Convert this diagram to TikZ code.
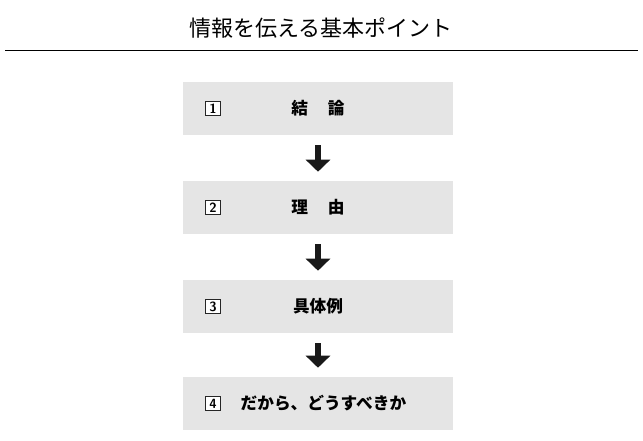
\documentclass[tikz,border=0pt]{standalone}
\usepackage{fontspec}
\newfontfamily\cjk{Noto Sans CJK JP}
\usetikzlibrary{positioning,arrows.meta}

\begin{document}
\begin{tikzpicture}[x=0.75pt,y=-0.75pt]

  \tikzset{stepbox/.style = {fill=black!10, minimum width=202.5pt, minimum height=39.75pt, inner sep=0pt},
           numbox/.style = {draw=black!85, fill=white, line width=0.6pt, minimum size=11pt, inner sep=0pt, font=\sffamily\bfseries},
           steptext/.style = {font=\cjk\bfseries\fontsize{12.5pt}{14pt}\selectfont},
           downarrow/.style = {-{Triangle[width=18pt,length=9pt]}, line width=4.5pt, black!90, shorten <=7.5pt, shorten >=6.75pt}}

  \useasboundingbox (0,0) rectangle (643,441);

  \node[font=\cjk\fontsize{16.5pt}{18pt}\selectfont] (title) at (321,28) {情報を伝える基本ポイント};
  \coordinate (rulel) at (5,50);
  \coordinate (ruler) at (638,50);
  \draw[line width=0.6pt] (rulel) -- (ruler);

  \node[stepbox] (s1) at (318,108.5) {}; %First step
  \node[stepbox] (s2) at (318,207.5) {}; %Second step
  \node[stepbox] (s3) at (318,306.5) {}; %Third step
  \node[stepbox] (s4) at (318,403.5) {}; %Fourth step

  \node[numbox] (n1) at (213,108.5) {1};
  \node[numbox] (n2) at (213,207.5) {2};
  \node[numbox] (n3) at (213,306.5) {3};
  \node[numbox] (n4) at (213,403.5) {4};

  \node[steptext] (t1) at (318,108.5) {結\hspace{1.2em}論};
  \node[steptext] (t2) at (318,207.5) {理\hspace{1.2em}由};
  \node[steptext] (t3) at (318,306.5) {具体例};
  \node[steptext, anchor=west] (t4) at (236,403.5) {だから、どうすべきか};

  \draw[downarrow] (s1) -- (s2);
  \draw[downarrow] (s2) -- (s3);
  \draw[downarrow] (s3) -- (s4);

\end{tikzpicture}
\end{document}
